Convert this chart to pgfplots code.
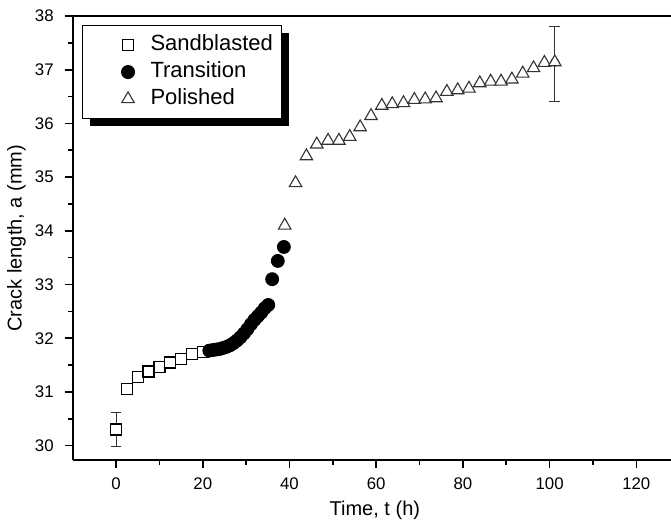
\documentclass[border=0pt]{standalone}
\usepackage{pgfplots}
\pgfplotsset{compat=1.18}
\usepackage{fontspec}
\setmainfont{Liberation Sans}
\usetikzlibrary{shadows}

\begin{document}
\begin{tikzpicture}
\begin{axis}[
  scale only axis, width=299pt, height=222pt,
  xmin=-10, xmax=128, ymin=29.73, ymax=38,
  axis x line*=box, axis y line*=left,
  axis line style={line width=0.8pt},
  xtick={0,20,...,120}, minor x tick num=1,
  ytick={30,...,38}, minor y tick num=1,
  xtick pos=bottom, ytick pos=left,
  tick align=outside,
  major tick length=4pt, minor tick length=2.25pt,
  every tick/.style={line width=0.8pt, black},
  /pgf/number format/assume math mode=true,
  tick label style={font=\fontsize{8.4}{10}\selectfont},
  xticklabel style={yshift=-1.5pt},
  yticklabel style={xshift=-2pt},
  xlabel={Time, t (h)},
  ylabel={Crack length, a (mm)},
  label style={font=\fontsize{10.7}{12}\selectfont},
  every axis x label/.style={at={(axis description cs:0.505,-0.1126)}, anchor=center},
  every axis y label/.style={at={(axis description cs:-0.094,0.5)}, rotate=90, anchor=center},
  legend style={at={(rel axis cs:0.0155,0.9797)}, anchor=north west,
    draw=black, line width=0.5pt, fill=white,
    inner xsep=4.5pt, inner ysep=3pt,
    column sep=5.5pt, row sep=0pt,
    font=\fontsize{11}{13}\selectfont,
    nodes={inner xsep=0pt, inner ysep=1.5pt, text height=8pt, text depth=2.5pt},
    drop shadow={shadow xshift=3.75pt, shadow yshift=-3.75pt, fill=black, opacity=1}},
  legend cell align=left,
  myleg/.style={legend image code/.code={\path (-18pt,0pt) (5.5pt,0pt); \draw[##1] plot coordinates {(0pt,0pt)};}},
]
\coordinate (sw) at (rel axis cs:0,0);
\coordinate (ne) at (rel axis cs:1,1);

% error bars
\addplot[forget plot, only marks, mark=none, draw=black!80, line width=0.5pt,
  error bars/.cd, y dir=both, y explicit,
  error mark options={rotate=90, mark size=2.7pt, line width=0.5pt, black!80}]
  coordinates {(0,30.30) += (0,0.31) -= (0,0.32) (101.2,37.14) += (0,0.67) -= (0,0.73)};

\addplot[only marks, myleg, mark=square*, mark size=2.75pt,
  mark options={fill=white, draw=black, line width=0.6pt}]
  coordinates {(0,30.30) (2.5,31.06) (5,31.28) (7.5,31.38) (10,31.47) (12.5,31.55) (15,31.62) (17.5,31.70) (20,31.75)};
\addlegendentry{Sandblasted}

\addplot[only marks, myleg, mark=*, mark size=3.25pt,
  mark options={fill=black, draw=black}]
  coordinates {(21.5,31.77) (22.3,31.78) (23.1,31.79) (23.9,31.80) (24.7,31.82) (25.5,31.84) (26.3,31.87) (27.1,31.91) (27.9,31.96) (28.7,32.02) (29.5,32.09) (30.3,32.17) (31.1,32.26) (31.9,32.34) (32.7,32.41) (33.5,32.48) (34.3,32.56) (35.1,32.62) (36.0,33.10) (37.3,33.44) (38.7,33.70)};
\addlegendentry{Transition}

\addplot[only marks, myleg, mark=triangle*, mark size=3.6pt,
  mark options={fill=white, draw=black!80, line width=0.55pt}]
  coordinates {(38.9,34.10) (41.4,34.89) (43.9,35.39) (46.3,35.61) (48.9,35.68) (51.4,35.68) (53.9,35.75) (56.3,35.93) (58.8,36.14) (61.3,36.33) (63.7,36.36) (66.3,36.38) (68.8,36.44) (71.3,36.45) (73.8,36.47) (76.3,36.59) (78.8,36.62) (81.4,36.65) (83.9,36.75) (86.4,36.78) (88.8,36.78) (91.3,36.82) (93.8,36.93) (96.3,37.03) (98.8,37.13) (101.2,37.14)};
\addlegendentry{Polished}
\end{axis}
\pgfresetboundingbox
\useasboundingbox ([shift={(-36.35pt,-35pt)}]sw) rectangle ([yshift=8pt]ne);
\end{tikzpicture}
\end{document}
